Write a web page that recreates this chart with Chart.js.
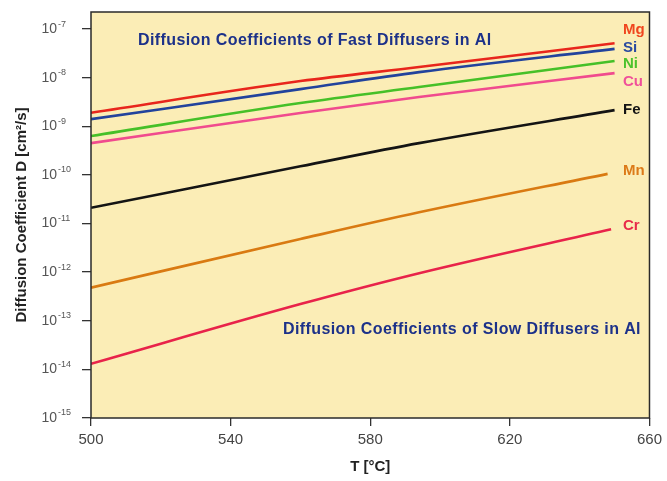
<!DOCTYPE html>
<html>
<head>
<meta charset="utf-8">
<script src="https://cdn.jsdelivr.net/npm/chart.js@4/dist/chart.umd.min.js"></script>
<style>
  html, body { margin: 0; background: #fff; }
</style>
</head>
<body>
<canvas id="diff" width="667" height="481"></canvas>
<script>
const temps = [500, 560, 594, 650];
const mnTemps = [500, 560, 594, 648];
const crTemps = [500, 560, 594, 649];

// diffusion coefficients D [cm²/s]
const mg = [1.9e-9, 8.5e-9, 1.65e-8, 5.1e-8];
const si = [1.4e-9, 5.8e-9, 1.3e-8, 3.9e-8];
const ni = [6.3e-10, 3.0e-9, 6.4e-9, 2.2e-8];
const cu = [4.5e-10, 1.87e-9, 4.0e-9, 1.24e-8];
const fe = [2.1e-11, 1.5e-10, 4.5e-10, 2.15e-9];
const mn = [4.8e-13, 4.8e-12, 1.7e-11, 1.05e-10];
const cr = [1.3e-14, 2.2e-13, 9.5e-13, 7.6e-12];

const names = ['Mg', 'Si', 'Ni', 'Cu', 'Fe', 'Mn', 'Cr'];
const xTicks = [500, 540, 580, 620, 660];
const yExps = [-15, -14, -13, -12, -11, -10, -9, -8, -7];

const lineColors = ['#e8261c', '#22439c', '#46c028', '#f04b8e', '#141414', '#d97a12', '#e8234a'];
const labelColors = ['#f0461e', '#2a4aa0', '#4cc22c', '#f0509a', '#141414', '#dc7a18', '#e82a4a'];
const labelDy = [-13, -1, 3, 9, 0, -3, -3];

const FONT = '"Liberation Sans", Arial, sans-serif';

function pts(xs, ys) {
    return xs.map((x, i) => ({ x: x, y: ys[i] }));
}

const seriesData = [
    pts(temps, mg), pts(temps, si), pts(temps, ni), pts(temps, cu),
    pts(temps, fe), pts(mnTemps, mn), pts(crTemps, cr)
];

const decor = {
    id: 'decor',
    beforeDraw(chart) {
        const { ctx, chartArea: a } = chart;
        ctx.save();
        ctx.fillStyle = '#fbedb6';
        ctx.fillRect(a.left, a.top, a.right - a.left, a.bottom - a.top);
        ctx.restore();
    },
    afterDraw(chart) {
        const { ctx, chartArea: a, scales } = chart;
        ctx.save();
        ctx.strokeStyle = '#2a2a2a';
        ctx.lineWidth = 1.5;
        ctx.strokeRect(a.left, a.top, a.right - a.left, a.bottom - a.top);

        // y tick labels: 10 with raised exponent
        ctx.fillStyle = '#555';
        ctx.textBaseline = 'middle';
        yExps.forEach(e => {
            const y = scales.y.getPixelForValue(Math.pow(10, e));
            ctx.font = '14px ' + FONT;
            ctx.textAlign = 'right';
            ctx.fillText('10', a.left - 34, y);
            ctx.font = '9px ' + FONT;
            ctx.textAlign = 'left';
            ctx.fillText(String(e), a.left - 33, y - 5);
        });

        // series names at the line ends
        ctx.font = 'bold 15px ' + FONT;
        ctx.textAlign = 'left';
        chart.data.datasets.forEach((ds, i) => {
            const meta = chart.getDatasetMeta(i);
            const last = meta.data[meta.data.length - 1];
            ctx.fillStyle = labelColors[i];
            ctx.fillText(ds.label, 623, last.y + labelDy[i]);
        });

        // notes
        ctx.fillStyle = '#1c3189';
        ctx.font = 'bold 16px ' + FONT;
        ctx.letterSpacing = '0.4px';
        ctx.fillText('Diffusion Coefficients of Fast Diffusers in Al', a.left + 47, a.top + 29);
        ctx.fillText('Diffusion Coefficients of Slow Diffusers in Al', a.left + 192, a.top + 318);
        ctx.restore();
    }
};

new Chart('diff', {
    type: 'line',
    data: {
        datasets: names.map((n, i) => ({
            label: n,
            data: seriesData[i],
            borderColor: lineColors[i],
            borderWidth: 2.6,
            pointRadius: 0,
            cubicInterpolationMode: 'monotone',
            fill: false
        }))
    },
    options: {
        responsive: false,
        animation: false,
        layout: { padding: { top: 12, right: 15, left: 0, bottom: 0 } },
        plugins: { legend: { display: false }, tooltip: { enabled: false } },
        scales: {
            x: {
                type: 'linear',
                min: 500,
                max: 660,
                afterBuildTicks: s => { s.ticks = xTicks.map(v => ({ value: v })); },
                afterFit: s => { s.height = 63; },
                grid: { drawOnChartArea: false, tickLength: 8, color: '#333', lineWidth: 1.3 },
                border: { display: false },
                ticks: { color: '#444', padding: 5, font: { family: FONT, size: 15 } },
                title: {
                    display: true, text: 'T [°C]', color: '#222',
                    padding: { top: 6, bottom: 5 },
                    font: { family: FONT, size: 15, weight: 'bold' }
                }
            },
            y: {
                type: 'logarithmic',
                min: 1e-15,
                max: 2.24e-7,
                afterBuildTicks: s => { s.ticks = yExps.map(e => ({ value: Math.pow(10, e) })); },
                afterFit: s => { s.width = 91; },
                grid: { drawOnChartArea: false, tickLength: 9, color: '#333', lineWidth: 1.3 },
                border: { display: false },
                ticks: { callback: () => '' },
                title: {
                    display: true, text: 'Diffusion Coefficient D [cm²/s]', color: '#222',
                    padding: { top: 13, bottom: 0 },
                    font: { family: FONT, size: 15, weight: 'bold' }
                }
            }
        }
    },
    plugins: [decor]
});
</script>
</body>
</html>
